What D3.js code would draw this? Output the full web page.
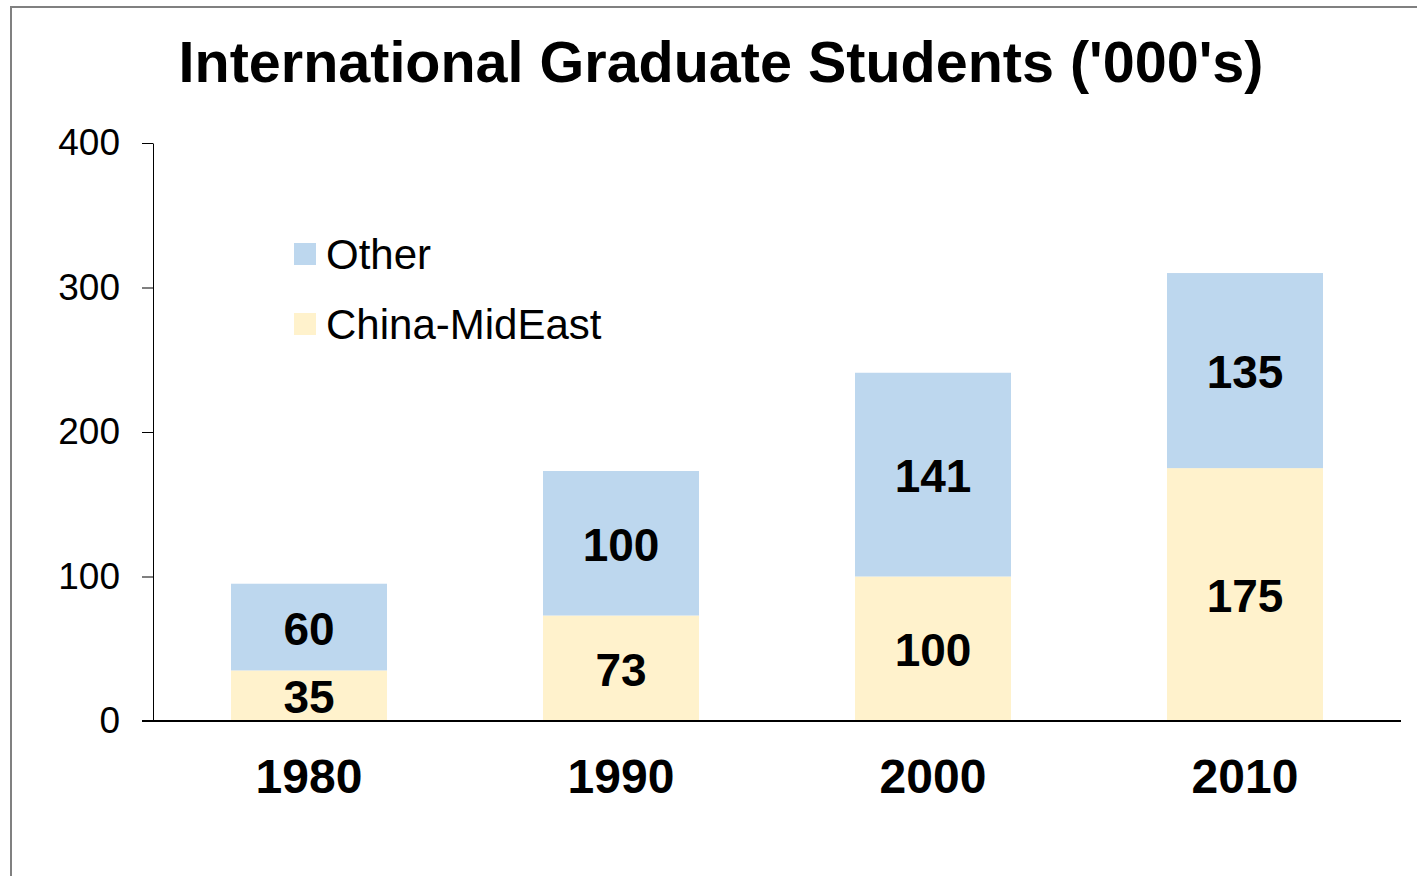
<!DOCTYPE html>
<html>
<head>
<meta charset="utf-8">
<script src="https://cdn.jsdelivr.net/npm/d3@7"></script>
<style>
  html, body { margin: 0; padding: 0; background: #fff; }
  svg { display: block; font-family: Arial, "Liberation Sans", sans-serif; }
</style>
</head>
<body>
<div id="chart"></div>
<script>
const years = ['1980', '1990', '2000', '2010'];
const chinaMidEast = [35, 73, 100, 175];
const other = [60, 100, 141, 135];
const yTicks = [0, 100, 200, 300, 400];
const seriesNames = ['China-MidEast', 'Other'];
const seriesColors = ['#FFF2CC', '#BDD7EE'];

const width = 1417, height = 876;
const margin = { top: 143, right: 16, bottom: 155, left: 153 };

const svg = d3.select('#chart').append('svg')
  .attr('width', width)
  .attr('height', height);

// outer chart frame
svg.append('rect')
  .attr('x', 11).attr('y', 7)
  .attr('width', width + 20).attr('height', height + 20)
  .attr('fill', 'none')
  .attr('stroke', '#808080')
  .attr('stroke-width', 2);

svg.append('text')
  .attr('x', 721)
  .attr('y', 82)
  .attr('text-anchor', 'middle')
  .style('font-size', '57.5px')
  .style('font-weight', 'bold')
  .text("International Graduate Students ('000's)");

const x = d3.scaleBand()
  .domain(years)
  .range([margin.left, width - margin.right])
  .paddingInner(0.5)
  .paddingOuter(0.25);

const y = d3.scaleLinear()
  .domain([0, 400])
  .range([height - margin.bottom, margin.top]);

const rows = years.map((yr, i) => ({ year: yr, 'China-MidEast': chinaMidEast[i], 'Other': other[i] }));
const stacked = d3.stack().keys(seriesNames)(rows);

const layers = svg.append('g').selectAll('g')
  .data(stacked)
  .join('g')
  .attr('fill', (d, i) => seriesColors[i]);

layers.selectAll('rect')
  .data(d => d)
  .join('rect')
  .attr('x', d => x(d.data.year))
  .attr('y', d => y(d[1]))
  .attr('width', x.bandwidth())
  .attr('height', d => y(d[0]) - y(d[1]));

layers.selectAll('text')
  .data(d => d)
  .join('text')
  .attr('x', d => x(d.data.year) + x.bandwidth() / 2)
  .attr('y', d => y((d[0] + d[1]) / 2))
  .attr('dy', '0.38em')
  .attr('text-anchor', 'middle')
  .attr('fill', '#000')
  .style('font-size', '46px')
  .style('font-weight', 'bold')
  .text(d => d[1] - d[0]);

// y axis
const yAxis = svg.append('g')
  .attr('transform', `translate(${margin.left},0)`)
  .call(d3.axisLeft(y).tickValues(yTicks).tickSize(11).tickPadding(22).tickSizeOuter(0));
yAxis.select('.domain').attr('stroke', '#000').attr('stroke-width', 1);
yAxis.selectAll('.tick line').attr('stroke', '#000');
yAxis.selectAll('.tick text')
  .style('font-size', '37px')
  .style('font-family', 'Arial, "Liberation Sans", sans-serif')
  .attr('fill', '#000');

// x axis
const xAxis = svg.append('g')
  .attr('transform', `translate(0,${y(0)})`)
  .call(d3.axisBottom(x).tickSize(0).tickPadding(38).tickSizeOuter(0));
xAxis.select('.domain').attr('stroke', '#000').attr('stroke-width', 2)
  .attr('d', `M${margin.left - 11},0H${width - margin.right}`);
xAxis.selectAll('.tick text')
  .style('font-size', '48px')
  .style('font-weight', 'bold')
  .style('font-family', 'Arial, "Liberation Sans", sans-serif')
  .attr('fill', '#000');

// legend
const legendItems = [
  { name: 'Other', color: seriesColors[1] },
  { name: 'China-MidEast', color: seriesColors[0] }
];
const legend = svg.append('g').attr('transform', 'translate(294,243)');
const item = legend.selectAll('g')
  .data(legendItems)
  .join('g')
  .attr('transform', (d, i) => `translate(0,${i * 70})`);
item.append('rect')
  .attr('width', 22).attr('height', 22)
  .attr('fill', d => d.color);
item.append('text')
  .attr('x', 32)
  .attr('y', 11)
  .attr('dy', '0.36em')
  .style('font-size', '42px')
  .text(d => d.name);
</script>
</body>
</html>
